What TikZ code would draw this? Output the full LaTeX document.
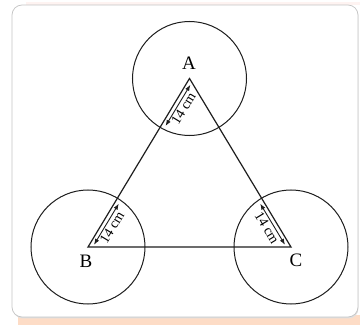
\documentclass[tikz,border=0pt]{standalone}
\usepackage{fontspec}
\setmainfont{Liberation Serif}
\usetikzlibrary{calc,arrows.meta}
\definecolor{peach}{HTML}{FDDCC6}
\definecolor{pinkish}{HTML}{FEF3F1}
\definecolor{framegray}{HTML}{C4C4C4}
\definecolor{ink}{HTML}{1E1E1E}
\begin{document}
\begin{tikzpicture}[x=1pt,y=1pt,
  ring/.style={circle,draw=ink,line width=1pt,minimum size=114pt,inner sep=0pt},
  side/.style={draw=ink,line width=1.2pt,line join=miter},
  dim/.style={draw=ink,line width=0.9pt,{Latex[length=6pt,width=4.5pt]}-{Latex[length=6pt,width=4.5pt]}},
  dimlabel/.style={font=\fontsize{14}{14}\selectfont,inner sep=1.6pt,anchor=north},
  vlabel/.style={font=\fontsize{19}{19}\selectfont,inner sep=0pt}]
% background and frame
\fill[white] (0,0) rectangle (360,325);
\useasboundingbox (0,0) rectangle (360,325);
\fill[peach] (18,0) rectangle (360,10);
\fill[pinkish] (26,320) rectangle (360,323.5);
\fill[black!12,rounded corners=10pt] (13,6.5) rectangle (358.5,319);
\filldraw[fill=white,draw=framegray,line width=0.7pt,rounded corners=10pt] (12,8) rectangle (358,320);
% vertices
\coordinate (A) at (189.5,246.5);
\coordinate (B) at (88,78);
\coordinate (C) at (291,78);
% circles
\node[ring] (cA) at (A) {};
\node[ring] (cB) at (B) {};
\node[ring] (cC) at (C) {};
% triangle
\draw[side] (A) -- (B) -- (C) -- cycle;
% offset lines for dimension arrows
\coordinate (Ab) at ($(A)!4pt!90:(B)$);
\coordinate (Ba) at ($(B)!4pt!-90:(A)$);
\coordinate (Ca) at ($(C)!4pt!90:(A)$);
\coordinate (Ac) at ($(A)!4pt!-90:(C)$);
% A arrow
\coordinate (a1) at ($(Ab)!5pt!(Ba)$);
\coordinate (a2) at ($(Ab)!53pt!(Ba)$);
\draw[dim] (a1) -- (a2);
\node[dimlabel,rotate=58.9] (lA) at ($(a1)!0.5!(a2)$) {14 cm};
% B arrow
\coordinate (b1) at ($(Ba)!5pt!(Ab)$);
\coordinate (b2) at ($(Ba)!53pt!(Ab)$);
\draw[dim] (b1) -- (b2);
\node[dimlabel,rotate=58.9] (lB) at ($(b1)!0.5!(b2)$) {14 cm};
% C arrow
\coordinate (c1) at ($(Ca)!5pt!(Ac)$);
\coordinate (c2) at ($(Ca)!53pt!(Ac)$);
\draw[dim] (c1) -- (c2);
\node[dimlabel,rotate=-58.9] (lC) at ($(c1)!0.5!(c2)$) {14 cm};
% vertex labels
\node[vlabel] (tA) at (189,262) {A};
\node[vlabel] (tB) at (86,64) {B};
\node[vlabel] (tC) at (296,65) {C};
\end{tikzpicture}
\end{document}
